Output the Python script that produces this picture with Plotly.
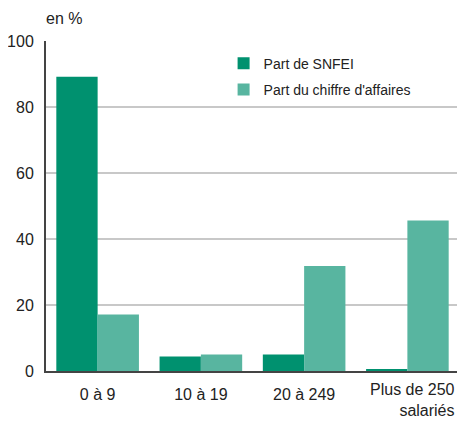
import plotly.graph_objects as go

categories = ["0 à 9", "10 à 19", "20 à 249", "Plus de 250 salariés"]
tick_labels = ["0 à 9", "10 à 19", "20 à 249", ""]
last_label = "Plus de 250<br>salariés"
part_snfei = [89.2, 4.4, 5.0, 0.4]
part_ca = [17.1, 5.0, 31.8, 45.6]
y_ticks = [0, 20, 40, 60, 80, 100]

FONT = "Liberation Sans, Arial, sans-serif"
DARK = "#00916F"
LIGHT = "#58B5A0"

fig = go.Figure()
fig.add_trace(go.Bar(x=categories, y=part_snfei, name="Part de SNFEI",
                     marker=dict(color=DARK, line=dict(width=0)), legendgroup="a"))
fig.add_trace(go.Bar(x=categories, y=part_ca, name="Part du chiffre d'affaires",
                     marker=dict(color=LIGHT, line=dict(width=0)), legendgroup="b"))

# page body has an 8px margin: figure is sized so the plot sits where the reference has it
fig.update_layout(
    width=457, height=418,
    margin=dict(l=38, r=6, t=33, b=55, autoexpand=False),
    barmode="group", bargap=0.2, bargroupgap=0,
    plot_bgcolor="white", paper_bgcolor="white",
    font=dict(family=FONT, size=16, color="#222"),
    showlegend=True,
    legend=dict(x=0.43, y=0.98, xanchor="left", yanchor="top",
                font=dict(size=14, color="#222"), bgcolor="rgba(0,0,0,0)",
                traceorder="grouped", tracegroupgap=5),
    xaxis=dict(tickvals=categories, ticktext=tick_labels, range=[-0.5, 3.5],
               showline=True, linecolor="#444", linewidth=2, ticks="",
               showgrid=False, ticklabelstandoff=8, fixedrange=True, automargin=False),
    yaxis=dict(range=[0, 100], tickvals=y_ticks, showgrid=True, gridcolor="#c8c8c8",
               gridwidth=2, showline=True, linecolor="#444", linewidth=2, ticks="",
               zeroline=False, ticklabelstandoff=7, fixedrange=True, automargin=False),
    annotations=[
        dict(text="en %", xref="paper", yref="paper", x=0, y=1, xanchor="left",
             yanchor="bottom", yshift=12, xshift=-2, showarrow=False,
             font=dict(size=16, color="#222")),
        dict(text=last_label, xref="x", yref="paper", x=categories[3], y=0,
             xanchor="right", yanchor="top", xshift=50, yshift=-8, align="right",
             showarrow=False, font=dict(size=16, color="#222")),
    ],
)

fig.write_html("out.html")
